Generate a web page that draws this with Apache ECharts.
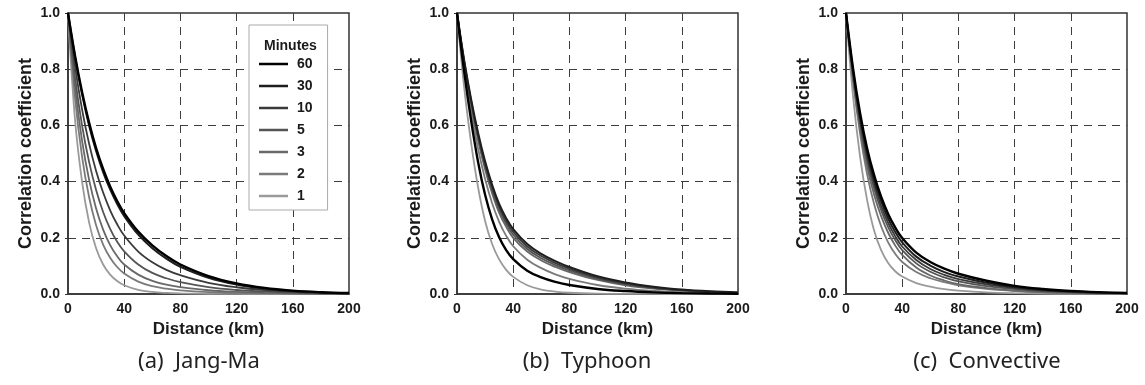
<!DOCTYPE html>
<html>
<head>
<meta charset="utf-8">
<title>Correlation coefficient vs distance</title>
<script src="https://cdn.jsdelivr.net/npm/echarts@6/dist/echarts.min.js"></script>
<style>
  html, body { margin: 0; padding: 0; background: #fff; }
  #chart { width: 1145px; height: 385px; }
</style>
</head>
<body>
<div id="chart"></div>
<script>
// distance (km) where the curves were read
const distances = [0, 5, 10, 15, 20, 25, 30, 35, 40, 50, 60, 70, 80, 100, 120, 140, 160, 180, 200];
const minutes = ['60', '30', '10', '5', '3', '2', '1'];
const xTicks = [0, 40, 80, 120, 160, 200];
const yTicks = [0, 0.2, 0.4, 0.6, 0.8, 1.0];
const captions = ['(a)  Jang-Ma', '(b)  Typhoon', '(c)  Convective'];

// (a) Jang-Ma
const jangma60 = [1, 0.848, 0.719, 0.610, 0.519, 0.445, 0.383, 0.331, 0.288, 0.222, 0.173, 0.135, 0.105, 0.064, 0.038, 0.0216, 0.0119, 0.0064, 0.0034];
const jangma30 = [1, 0.844, 0.712, 0.600, 0.509, 0.434, 0.372, 0.320, 0.277, 0.211, 0.163, 0.126, 0.097, 0.058, 0.034, 0.019, 0.0105, 0.0056, 0.003];
const jangma10 = [1, 0.811, 0.657, 0.535, 0.438, 0.361, 0.298, 0.248, 0.208, 0.151, 0.113, 0.086, 0.067, 0.040, 0.024, 0.014, 0.008, 0.0045, 0.0025];
const jangma5 = [1, 0.771, 0.600, 0.470, 0.370, 0.292, 0.232, 0.186, 0.152, 0.105, 0.075, 0.056, 0.042, 0.0246, 0.0143, 0.0082, 0.0046, 0.0025, 0.0014];
const jangma3 = [1, 0.737, 0.546, 0.407, 0.304, 0.229, 0.174, 0.134, 0.105, 0.069, 0.047, 0.033, 0.0245, 0.0134, 0.0074, 0.004, 0.0021, 0.0011, 0.0006];
const jangma2 = [1, 0.698, 0.489, 0.345, 0.245, 0.176, 0.129, 0.096, 0.073, 0.044, 0.028, 0.019, 0.013, 0.0064, 0.0031, 0.0015, 0.0007, 0.0003, 0.0001];
const jangma1 = [1, 0.620, 0.400, 0.255, 0.163, 0.105, 0.069, 0.046, 0.031, 0.0145, 0.0072, 0.0038, 0.002, 0.0006, 0.0002, 0, 0, 0, 0];

// (b) Typhoon
const typhoon60 = [1, 0.795, 0.619, 0.470, 0.353, 0.266, 0.202, 0.156, 0.124, 0.083, 0.059, 0.043, 0.032, 0.018, 0.0105, 0.0059, 0.0032, 0.0017, 0.0009];
const typhoon30 = [1, 0.835, 0.694, 0.574, 0.472, 0.389, 0.321, 0.270, 0.231, 0.178, 0.143, 0.117, 0.096, 0.063, 0.041, 0.026, 0.016, 0.0096, 0.0057];
const typhoon10 = [1, 0.832, 0.688, 0.566, 0.463, 0.379, 0.311, 0.260, 0.221, 0.169, 0.135, 0.110, 0.090, 0.058, 0.037, 0.023, 0.014, 0.0085, 0.005];
const typhoon5 = [1, 0.828, 0.681, 0.557, 0.453, 0.369, 0.300, 0.250, 0.211, 0.160, 0.127, 0.103, 0.084, 0.054, 0.034, 0.021, 0.013, 0.0078, 0.0046];
const typhoon3 = [1, 0.824, 0.674, 0.548, 0.443, 0.358, 0.289, 0.239, 0.200, 0.151, 0.119, 0.096, 0.078, 0.050, 0.031, 0.019, 0.012, 0.007, 0.004];
const typhoon2 = [1, 0.811, 0.650, 0.517, 0.409, 0.323, 0.257, 0.207, 0.170, 0.122, 0.092, 0.070, 0.054, 0.032, 0.019, 0.011, 0.0063, 0.0036, 0.002];
const typhoon1 = [1, 0.740, 0.540, 0.380, 0.260, 0.178, 0.123, 0.086, 0.061, 0.031, 0.016, 0.0083, 0.0044, 0.0012, 0.0003, 0.0001, 0, 0, 0];

// (c) Convective
const convective60 = [1, 0.803, 0.644, 0.519, 0.423, 0.346, 0.285, 0.237, 0.199, 0.147, 0.114, 0.090, 0.072, 0.047, 0.029, 0.018, 0.011, 0.0066, 0.0038];
const convective30 = [1, 0.795, 0.631, 0.504, 0.407, 0.330, 0.268, 0.221, 0.184, 0.133, 0.101, 0.078, 0.062, 0.040, 0.025, 0.015, 0.0092, 0.0055, 0.0032];
const convective10 = [1, 0.787, 0.619, 0.489, 0.391, 0.313, 0.253, 0.206, 0.169, 0.121, 0.089, 0.068, 0.053, 0.034, 0.021, 0.012, 0.0074, 0.0044, 0.0025];
const convective5 = [1, 0.779, 0.607, 0.475, 0.375, 0.298, 0.238, 0.192, 0.156, 0.109, 0.079, 0.059, 0.045, 0.028, 0.017, 0.010, 0.006, 0.0035, 0.002];
const convective3 = [1, 0.767, 0.589, 0.454, 0.353, 0.277, 0.218, 0.173, 0.139, 0.094, 0.066, 0.048, 0.035, 0.021, 0.012, 0.007, 0.004, 0.0023, 0.0013];
const convective2 = [1, 0.760, 0.571, 0.427, 0.320, 0.241, 0.184, 0.143, 0.114, 0.078, 0.056, 0.042, 0.031, 0.018, 0.0107, 0.006, 0.0034, 0.0019, 0.001];
const convective1 = [1, 0.705, 0.489, 0.335, 0.226, 0.156, 0.110, 0.081, 0.062, 0.039, 0.026, 0.017, 0.012, 0.0058, 0.0028, 0.0013, 0.0006, 0.0003, 0.0001];

const panels = [
  [jangma60, jangma30, jangma10, jangma5, jangma3, jangma2, jangma1],
  [typhoon60, typhoon30, typhoon10, typhoon5, typhoon3, typhoon2, typhoon1],
  [convective60, convective30, convective10, convective5, convective3, convective2, convective1]
];

const colors = ['#000000', '#1e1e1e', '#3a3a3a', '#555555', '#686868', '#7a7a7a', '#9a9a9a'];
const widths = [2.4, 2, 1.8, 1.8, 1.8, 1.8, 1.8];
const gridLefts = [68, 457, 846];
const captionCenters = [194, 582, 982];
const font = 'Arial, "Liberation Sans", sans-serif';

const chart = echarts.init(document.getElementById('chart'), null, { renderer: 'canvas' });

const grids = gridLefts.map(left => ({
  left: left, top: 13, width: 281, height: 281,
  show: true, borderColor: '#333', borderWidth: 1.5, backgroundColor: 'transparent'
}));

const xAxes = gridLefts.map((_, i) => ({
  type: 'value', gridIndex: i, min: xTicks[0], max: xTicks[xTicks.length - 1], interval: 40,
  name: 'Distance (km)', nameLocation: 'middle', nameGap: 24,
  nameTextStyle: { fontFamily: font, fontWeight: 'bold', fontSize: 17, color: '#1a1a1a' },
  axisLine: { show: true, lineStyle: { color: '#333', width: 1.5 } },
  axisTick: { show: false },
  axisLabel: { fontFamily: font, fontWeight: 'bold', fontSize: 14, color: '#1a1a1a', margin: 8 },
  splitLine: { show: true, showMinLine: false, showMaxLine: false,
    lineStyle: { color: '#3c3c3c', width: 1, type: [8, 6] } }
}));

const yAxes = gridLefts.map((_, i) => ({
  type: 'value', gridIndex: i, min: yTicks[0], max: yTicks[yTicks.length - 1], interval: 0.2,
  name: 'Correlation coefficient', nameLocation: 'middle', nameGap: 33, nameRotate: 90,
  nameTextStyle: { fontFamily: font, fontWeight: 'bold', fontSize: 18, color: '#1a1a1a' },
  axisLine: { show: true, lineStyle: { color: '#333', width: 1.5 } },
  axisTick: { show: true, length: 3, lineStyle: { color: '#333' } },
  axisLabel: { fontFamily: font, fontWeight: 'bold', fontSize: 14, color: '#1a1a1a', margin: 8,
    formatter: v => v.toFixed(1) },
  splitLine: { show: true, showMinLine: false, showMaxLine: false,
    lineStyle: { color: '#3c3c3c', width: 1, type: [8, 6] } }
}));

const series = [];
panels.forEach((curves, p) => {
  curves.forEach((vals, k) => {
    series.push({
      name: minutes[k], type: 'line', xAxisIndex: p, yAxisIndex: p,
      data: distances.map((d, i) => [d, vals[i]]),
      symbol: 'none', smooth: 0.4, silent: true,
      z: 10 - k,
      lineStyle: { color: colors[k], width: widths[k] },
      itemStyle: { color: colors[k] }
    });
  });
});

const titles = captions.map((c, i) => ({
  text: c, left: captionCenters[i], top: 346, textAlign: 'center',
  textStyle: { fontFamily: '"Noto Sans", sans-serif', fontWeight: 'normal', fontSize: 22, color: '#222' }
}));
titles.push({
  text: 'Minutes', left: 259, top: 34,
  textStyle: { fontFamily: font, fontWeight: 'bold', fontSize: 14, color: '#1a1a1a' }
});

chart.setOption({
  animation: false,
  backgroundColor: '#fff',
  title: titles,
  grid: grids,
  xAxis: xAxes,
  yAxis: yAxes,
  legend: {
    data: minutes, orient: 'vertical', left: 249, top: 25,
    padding: [32, 15, 7, 10], itemGap: 8, itemWidth: 29, itemHeight: 2.5, icon: 'rect',
    backgroundColor: '#fff', borderColor: '#aaa', borderWidth: 1, borderRadius: 0,
    align: 'left', selectedMode: false,
    textStyle: { fontFamily: font, fontWeight: 'bold', fontSize: 14, color: '#1a1a1a',
      lineHeight: 14, padding: [0, 0, 0, 4] }
  },
  series: series
});
</script>
</body>
</html>
